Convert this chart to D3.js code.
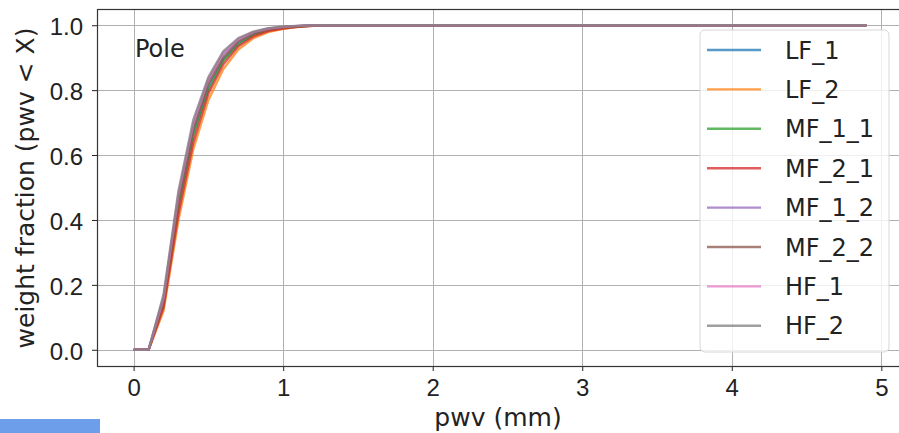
<!DOCTYPE html>
<html>
<head>
<meta charset="utf-8">
<script src="https://cdn.jsdelivr.net/npm/d3@7"></script>
<style>
  body { margin: 0; background: #fff; }
  svg { display: block; font-family: "DejaVu Sans", sans-serif; }
</style>
</head>
<body>
<svg id="chart" width="899" height="433"></svg>
<script>
// cumulative weight fraction of pwv, sampled on the pwv grid below
var pwv = [0, 0.1, 0.2, 0.3, 0.4, 0.5, 0.6, 0.7, 0.8, 0.9, 1.0, 1.1, 1.2, 1.3, 1.4, 4.9];

var LF_1   = [0, 0, 0.15, 0.45, 0.67, 0.81, 0.895, 0.945, 0.972, 0.986, 0.993, 0.997, 0.999, 1, 1, 1];
var LF_2   = [0, 0, 0.12, 0.40, 0.62, 0.77, 0.865, 0.925, 0.960, 0.979, 0.989, 0.995, 0.998, 1, 1, 1];
var MF_1_1 = [0, 0, 0.14, 0.44, 0.66, 0.80, 0.890, 0.940, 0.970, 0.985, 0.992, 0.996, 0.999, 1, 1, 1];
var MF_2_1 = [0, 0, 0.13, 0.42, 0.64, 0.79, 0.880, 0.935, 0.965, 0.982, 0.990, 0.995, 0.998, 1, 1, 1];
var MF_1_2 = [0, 0, 0.16, 0.47, 0.69, 0.83, 0.910, 0.955, 0.977, 0.989, 0.995, 0.998, 0.999, 1, 1, 1];
var MF_2_2 = [0, 0, 0.15, 0.46, 0.68, 0.82, 0.900, 0.950, 0.974, 0.987, 0.994, 0.997, 0.999, 1, 1, 1];
var HF_1   = [0, 0, 0.16, 0.48, 0.70, 0.835, 0.915, 0.957, 0.979, 0.990, 0.995, 0.998, 1, 1, 1, 1];
var HF_2   = [0, 0, 0.17, 0.49, 0.71, 0.84, 0.920, 0.960, 0.980, 0.991, 0.996, 0.998, 1, 1, 1, 1];

var seriesNames = ["LF_1", "LF_2", "MF_1_1", "MF_2_1", "MF_1_2", "MF_2_2", "HF_1", "HF_2"];
var seriesValues = [LF_1, LF_2, MF_1_1, MF_2_1, MF_1_2, MF_2_2, HF_1, HF_2];
var colors = ["#1f77b4", "#ff7f0e", "#2ca02c", "#d62728", "#9467bd", "#8c564b", "#e377c2", "#7f7f7f"];

var xTicks = [0, 1, 2, 3, 4, 5];
var yTicks = [0.0, 0.2, 0.4, 0.6, 0.8, 1.0];
var panelLabel = "Pole";

var svg = d3.select("#chart");
var m = { left: 97, top: 9, right: 903, bottom: 366 };
var tickFont = "24px", labelFont = "25px";

var x = d3.scaleLinear().domain([-0.245, 5.145]).range([m.left, m.right]);
var y = d3.scaleLinear().domain([-0.05, 1.05]).range([m.bottom, m.top]);

// little blue tab in the bottom-left corner
svg.append("rect").attr("x", 0).attr("y", 419).attr("width", 100).attr("height", 14)
  .attr("fill", "#6d9eea");

svg.append("defs").append("clipPath").attr("id", "plotArea")
  .append("rect").attr("x", m.left).attr("y", m.top)
  .attr("width", m.right - m.left).attr("height", m.bottom - m.top);

// grid
var grid = svg.append("g").attr("stroke", "#b0b0b0").attr("stroke-width", 1).attr("clip-path", "url(#plotArea)");
grid.selectAll(".gx").data(xTicks).enter().append("line")
  .attr("x1", function (d) { return Math.round(x(d)) + 0.5; })
  .attr("x2", function (d) { return Math.round(x(d)) + 0.5; })
  .attr("y1", m.top).attr("y2", m.bottom);
grid.selectAll(".gy").data(yTicks).enter().append("line")
  .attr("y1", function (d) { return Math.round(y(d)) + 0.5; })
  .attr("y2", function (d) { return Math.round(y(d)) + 0.5; })
  .attr("x1", m.left).attr("x2", m.right);

// curves
var line = d3.line()
  .x(function (d) { return x(d[0]); })
  .y(function (d) { return y(d[1]); });

svg.append("g").attr("clip-path", "url(#plotArea)")
  .selectAll("path").data(seriesValues).enter().append("path")
  .attr("d", function (vals) { return line(pwv.map(function (p, i) { return [p, vals[i]]; })); })
  .attr("fill", "none")
  .attr("stroke", function (d, i) { return colors[i]; })
  .attr("stroke-width", 2.4)
  .attr("stroke-opacity", 0.75)
  .attr("stroke-linejoin", "round");

// axes
var xAxis = d3.axisBottom(x).tickValues(xTicks).tickFormat(d3.format("d")).tickSize(5).tickPadding(3);
var yAxis = d3.axisLeft(y).tickValues(yTicks).tickFormat(d3.format(".1f")).tickSize(5).tickPadding(9);

var gx = svg.append("g").attr("transform", "translate(0," + m.bottom + ")").call(xAxis);
var gy = svg.append("g").attr("transform", "translate(" + m.left + ",0)").call(yAxis);
[gx, gy].forEach(function (g) {
  g.select(".domain").remove();
  g.selectAll(".tick line").attr("stroke", "#222");
  g.selectAll(".tick text").attr("fill", "#222").style("font-size", tickFont);
});
gx.selectAll(".tick text").attr("dy", "0.9em");
gy.selectAll(".tick text").attr("dy", "0.4em");

// frame
svg.append("rect").attr("x", m.left + 0.5).attr("y", m.top + 0.5)
  .attr("width", m.right - m.left).attr("height", m.bottom - m.top)
  .attr("fill", "none").attr("stroke", "#333").attr("stroke-width", 1.2);

// titles
svg.append("text").attr("x", 498).attr("y", 426)
  .attr("text-anchor", "middle").attr("fill", "#222").style("font-size", labelFont)
  .text("pwv (mm)");
svg.append("text").attr("transform", "translate(34,188) rotate(-90)")
  .attr("text-anchor", "middle").attr("fill", "#222").style("font-size", labelFont)
  .text("weight fraction (pwv < X)");
svg.append("text").attr("x", 135).attr("y", 57).attr("fill", "#222").style("font-size", tickFont)
  .text(panelLabel);

// legend
var lg = svg.append("g").attr("transform", "translate(700,30)");
lg.append("rect").attr("width", 189).attr("height", 322).attr("rx", 5)
  .attr("fill", "#fff").attr("fill-opacity", 0.8).attr("stroke", "#d6d6d6");
var items = lg.selectAll(".item").data(seriesNames).enter().append("g")
  .attr("transform", function (d, i) { return "translate(0," + (20 + i * 39.4) + ")"; });
items.append("line").attr("x1", 7).attr("x2", 61).attr("y1", 0).attr("y2", 0)
  .attr("stroke", function (d, i) { return colors[i]; })
  .attr("stroke-width", 2.4).attr("stroke-opacity", 0.75);
items.append("text").attr("x", 85).attr("dy", "0.36em").attr("fill", "#222")
  .style("font-size", tickFont).text(function (d) { return d; });
</script>
</body>
</html>
